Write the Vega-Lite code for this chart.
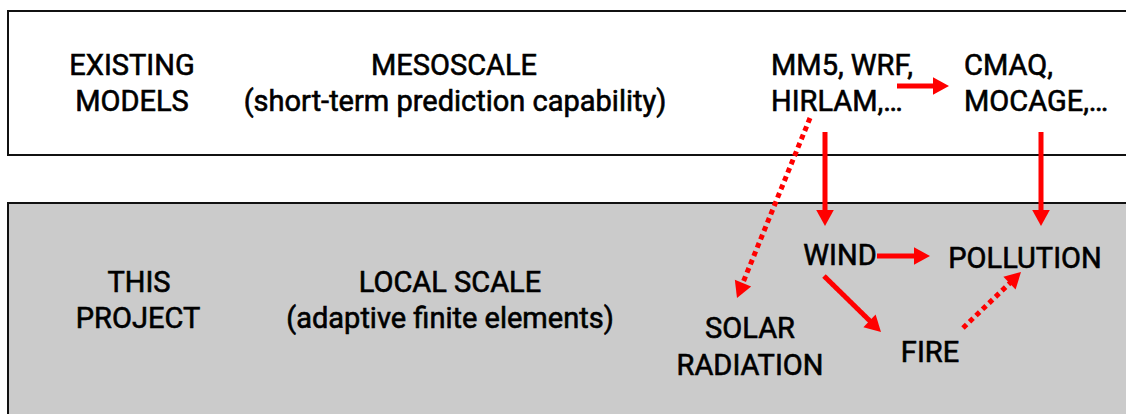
{
  "$schema": "https://vega.github.io/schema/vega-lite/v6.json",
  "width": 1126,
  "height": 414,
  "autosize": {"type": "fit", "contains": "padding"},
  "padding": 0,
  "background": "white",
  "config": {"view": {"stroke": null}},
  "datasets": {
    "boxes": [
      {"box": "existing", "x": 8, "x2": 1140, "y": 11, "y2": 155},
      {"box": "project", "x": 8, "x2": 1140, "y": 203, "y2": 430}
    ],
    "lines": [
      {"link": "MM5 to CMAQ", "style": "solid", "x": 897, "y": 86, "x2": 935, "y2": 86},
      {"link": "MM5 to WIND", "style": "solid", "x": 825, "y": 132, "x2": 825, "y2": 212},
      {"link": "CMAQ to POLLUTION", "style": "solid", "x": 1041, "y": 132, "x2": 1041, "y2": 212},
      {"link": "MM5 to SOLAR", "style": "dotted", "x": 810, "y": 118, "x2": 742, "y2": 285},
      {"link": "WIND to POLLUTION", "style": "solid", "x": 877, "y": 256, "x2": 916, "y2": 256},
      {"link": "WIND to FIRE", "style": "solid", "x": 824, "y": 276, "x2": 871, "y2": 322},
      {"link": "FIRE to POLLUTION", "style": "dotted", "x": 963, "y": 328, "x2": 1011, "y2": 282}
    ],
    "heads": [
      {"link": "MM5 to CMAQ", "x": 949, "y": 86, "angle": 90},
      {"link": "MM5 to WIND", "x": 825, "y": 226, "angle": 180},
      {"link": "CMAQ to POLLUTION", "x": 1041, "y": 226, "angle": 180},
      {"link": "MM5 to SOLAR", "x": 737, "y": 298, "angle": 202},
      {"link": "WIND to POLLUTION", "x": 930, "y": 256, "angle": 90},
      {"link": "WIND to FIRE", "x": 881, "y": 332, "angle": 134},
      {"link": "FIRE to POLLUTION", "x": 1021, "y": 272, "angle": 46}
    ],
    "labels": [
      {"label": "EXISTING", "x": 132, "y": 75, "align": "center"},
      {"label": "MODELS", "x": 132, "y": 111, "align": "center"},
      {"label": "MESOSCALE", "x": 454, "y": 75, "align": "center"},
      {"label": "(short-term prediction capability)", "x": 455, "y": 111, "align": "center"},
      {"label": "MM5, WRF,", "x": 771, "y": 75, "align": "left"},
      {"label": "HIRLAM,…", "x": 771, "y": 111, "align": "left"},
      {"label": "CMAQ,", "x": 964, "y": 75, "align": "left"},
      {"label": "MOCAGE,…", "x": 964, "y": 111, "align": "left"},
      {"label": "THIS", "x": 139, "y": 292, "align": "center"},
      {"label": "PROJECT", "x": 138, "y": 328, "align": "center"},
      {"label": "LOCAL SCALE", "x": 450, "y": 292, "align": "center"},
      {"label": "(adaptive finite elements)", "x": 450, "y": 328, "align": "center"},
      {"label": "WIND", "x": 840, "y": 265, "align": "center"},
      {"label": "POLLUTION", "x": 1025, "y": 268, "align": "center"},
      {"label": "SOLAR", "x": 750, "y": 338, "align": "center"},
      {"label": "RADIATION", "x": 750, "y": 375, "align": "center"},
      {"label": "FIRE", "x": 930, "y": 362, "align": "center"}
    ]
  },
  "layer": [
    {
      "data": {"name": "boxes"},
      "mark": {"type": "rect", "stroke": "#111111", "strokeWidth": 2, "clip": true},
      "encoding": {
        "x": {"field": "x", "type": "quantitative", "axis": null, "scale": {"domain": [0, 1126], "nice": false, "zero": false}},
        "x2": {"field": "x2"},
        "y": {"field": "y", "type": "quantitative", "axis": null, "scale": {"domain": [0, 414], "nice": false, "zero": false, "reverse": true}},
        "y2": {"field": "y2"},
        "fill": {"field": "box", "type": "nominal", "legend": null, "scale": {"domain": ["existing", "project"], "range": ["#ffffff", "#cbcbcb"]}}
      }
    },
    {
      "data": {"name": "lines"},
      "mark": {"type": "rule", "color": "#ff0000", "strokeWidth": 5, "strokeCap": "butt"},
      "encoding": {
        "x": {"field": "x", "type": "quantitative"},
        "x2": {"field": "x2"},
        "y": {"field": "y", "type": "quantitative"},
        "y2": {"field": "y2"},
        "strokeDash": {"field": "style", "type": "nominal", "legend": null, "scale": {"domain": ["solid", "dotted"], "range": [[1, 0], [5, 4]]}}
      }
    },
    {
      "data": {"name": "heads"},
      "mark": {"type": "point", "filled": true, "opacity": 1, "color": "#ff0000", "shape": "M0,0L-0.55,1L0.55,1Z", "size": 1024, "strokeWidth": 0},
      "encoding": {
        "x": {"field": "x", "type": "quantitative"},
        "y": {"field": "y", "type": "quantitative"},
        "angle": {"field": "angle", "type": "quantitative", "scale": null}
      }
    },
    {
      "data": {"name": "labels"},
      "transform": [{"filter": "datum.align === 'center'"}],
      "mark": {"type": "text", "align": "center", "baseline": "alphabetic", "font": "Roboto", "fontSize": 29, "fontWeight": 400, "fill": "#000000", "stroke": "#000000", "strokeWidth": 0.6},
      "encoding": {
        "x": {"field": "x", "type": "quantitative"},
        "y": {"field": "y", "type": "quantitative"},
        "text": {"field": "label"}
      }
    },
    {
      "data": {"name": "labels"},
      "transform": [{"filter": "datum.align === 'left'"}],
      "mark": {"type": "text", "align": "left", "baseline": "alphabetic", "font": "Roboto", "fontSize": 29, "fontWeight": 400, "fill": "#000000", "stroke": "#000000", "strokeWidth": 0.6},
      "encoding": {
        "x": {"field": "x", "type": "quantitative"},
        "y": {"field": "y", "type": "quantitative"},
        "text": {"field": "label"}
      }
    }
  ]
}
